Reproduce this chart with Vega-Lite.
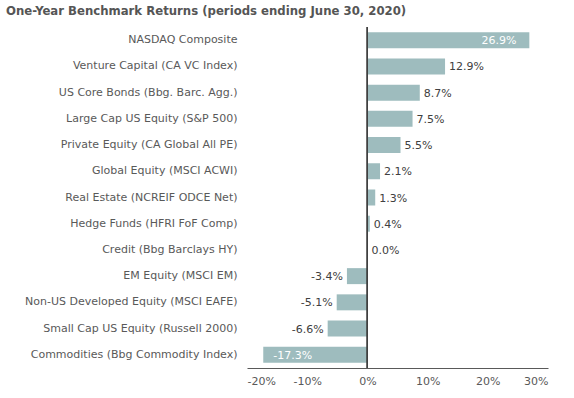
{
  "$schema": "https://vega.github.io/schema/vega-lite/v6.json",
  "autosize": "none",
  "width": 301,
  "height": 341,
  "padding": {"left": 247, "top": 27, "right": 26, "bottom": 30},
  "background": "white",
  "title": {
    "text": "One-Year Benchmark Returns (periods ending June 30, 2020)",
    "anchor": "start",
    "frame": "group",
    "dx": -241,
    "offset": 9,
    "font": "DejaVu Sans Condensed",
    "fontSize": 13,
    "fontWeight": "bold",
    "color": "#555555"
  },
  "data": {
    "values": [
      {"name": "NASDAQ Composite", "v": 0.269},
      {"name": "Venture Capital (CA VC Index)", "v": 0.129},
      {"name": "US Core Bonds (Bbg. Barc. Agg.)", "v": 0.087},
      {"name": "Large Cap US Equity (S&P 500)", "v": 0.075},
      {"name": "Private Equity (CA Global All PE)", "v": 0.055},
      {"name": "Global Equity (MSCI ACWI)", "v": 0.021},
      {"name": "Real Estate (NCREIF ODCE Net)", "v": 0.013},
      {"name": "Hedge Funds (HFRI FoF Comp)", "v": 0.004},
      {"name": "Credit (Bbg Barclays HY)", "v": 0.0},
      {"name": "EM Equity (MSCI EM)", "v": -0.034},
      {"name": "Non-US Developed Equity (MSCI EAFE)", "v": -0.051},
      {"name": "Small Cap US Equity (Russell 2000)", "v": -0.066},
      {"name": "Commodities (Bbg Commodity Index)", "v": -0.173}
    ]
  },
  "encoding": {
    "y": {
      "field": "name",
      "type": "nominal",
      "sort": null,
      "title": null,
      "scale": {"paddingInner": 0.39, "paddingOuter": 0.2},
      "axis": {"domain": false, "ticks": false, "tickSize": 0, "labelPadding": 10, "labelFontSize": 11, "labelColor": "#595959", "labelFont": "DejaVu Sans", "labelLimit": 300}
    },
    "x": {
      "field": "v",
      "type": "quantitative",
      "title": null,
      "scale": {"domain": [-0.2, 0.3], "nice": false},
      "axis": {"values": [-0.2, -0.1, 0, 0.1, 0.2, 0.3], "format": ".0%", "grid": false, "ticks": false, "tickSize": 0, "labelPadding": 7, "domainColor": "#595959", "labelFontSize": 11, "labelColor": "#595959", "labelFont": "DejaVu Sans"}
    }
  },
  "layer": [
    {"mark": {"type": "bar", "color": "#9ebcbe"}},
    {
      "mark": {"type": "rule", "color": "#404040", "strokeWidth": 1},
      "encoding": {"x": {"datum": 0}, "y": null}
    },
    {
      "transform": [{"filter": "datum.v >= 0 && datum.v < 0.2"}],
      "mark": {"type": "text", "align": "left", "dx": 4, "fontSize": 11, "font": "DejaVu Sans", "color": "#404040", "dy": 1},
      "encoding": {"text": {"field": "v", "format": ".1%"}}
    },
    {
      "transform": [{"filter": "datum.v < 0 && datum.v > -0.1"}],
      "mark": {"type": "text", "align": "right", "dx": -4, "fontSize": 11, "font": "DejaVu Sans", "color": "#404040", "dy": 1},
      "encoding": {"text": {"field": "v", "format": ".1%"}}
    },
    {
      "transform": [{"filter": "datum.v >= 0.2"}],
      "mark": {"type": "text", "align": "right", "dx": -13, "fontSize": 11, "font": "DejaVu Sans", "color": "white", "dy": 1},
      "encoding": {"text": {"field": "v", "format": ".1%"}}
    },
    {
      "transform": [{"filter": "datum.v <= -0.1"}],
      "mark": {"type": "text", "align": "left", "dx": 10, "fontSize": 11, "font": "DejaVu Sans", "color": "white", "dy": 1},
      "encoding": {"text": {"field": "v", "format": ".1%"}}
    }
  ],
  "config": {
    "view": {"stroke": null},
    "locale": {"number": {"decimal": ".", "thousands": ",", "grouping": [3], "currency": ["$", ""], "minus": "-"}}
  }
}
